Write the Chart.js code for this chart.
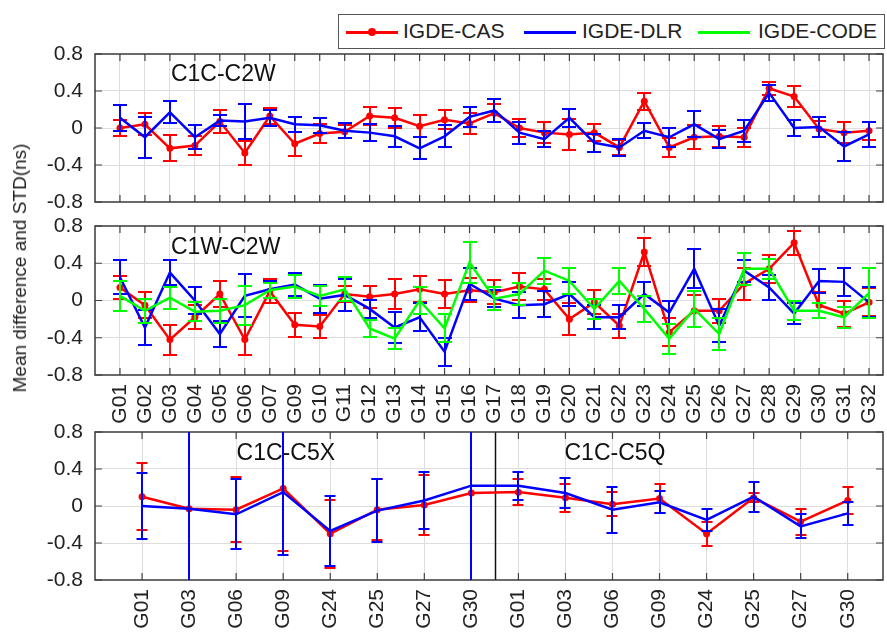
<!DOCTYPE html>
<html>
<head>
<meta charset="utf-8">
<script src="https://cdn.jsdelivr.net/npm/chart.js@4.4.1/dist/chart.umd.min.js"></script>
<style>
  html, body { margin:0; padding:0; background:#fff; }
  #page { position:relative; width:887px; height:635px; overflow:hidden; background:#fff;
          font-family:"Liberation Sans", Arial, Helvetica, sans-serif; color:#222; }
  canvas { position:absolute; left:0; }
  #ylab { position:absolute; left:20px; top:268px; transform:translate(-50%,-50%) rotate(-90deg);
          font-size:19px; white-space:nowrap; color:#222; }
  #legend { position:absolute; left:338px; top:14px; width:547px; height:35px;
            border:1.5px solid #555; box-sizing:border-box; background:#fff; font-size:21px; }
  .lline { position:absolute; top:16px; height:2.5px; width:52px; }
  .ltext { position:absolute; top:5px; line-height:22px; }
  .ldot { position:absolute; width:8px; height:8px; border-radius:50%; background:#ff0000; top:13px; }
</style>
</head>
<body>
<div id="page">
  <canvas id="c1" width="887" height="170" style="top:40px"></canvas>
  <canvas id="c2" width="887" height="215" style="top:215px"></canvas>
  <canvas id="c3" width="887" height="215" style="top:420px"></canvas>
  <div id="ylab">Mean difference and STD(ns)</div>
  <div id="legend">
    <div class="lline" style="left:7px;background:#ff0000"></div>
    <div class="ldot" style="left:29px"></div>
    <div class="ltext" style="left:64px">IGDE-CAS</div>
    <div class="lline" style="left:185px;background:#0000ff"></div>
    <div class="ltext" style="left:243px">IGDE-DLR</div>
    <div class="lline" style="left:359px;background:#00ff00"></div>
    <div class="ltext" style="left:419px">IGDE-CODE</div>
  </div>
</div>
<script>
// ---------------- DATA ----------------
const sats = ['G01','G02','G03','G04','G05','G06','G07','G09','G10','G11','G12','G13','G14','G15','G16',
              'G17','G18','G19','G20','G21','G22','G23','G24','G25','G26','G27','G28','G29','G30','G31','G32'];

// Panel 1: C1C-C2W
const c2wCasMean = [0.00,0.04,-0.22,-0.19,0.07,-0.27,0.13,-0.17,-0.06,-0.04,0.13,0.11,0.02,0.09,0.05,
                    0.16,0.00,-0.05,-0.07,-0.05,-0.21,0.29,-0.21,-0.10,-0.09,-0.10,0.43,0.34,-0.01,-0.05,-0.03];
const c2wCasStd  = [0.09,0.12,0.14,0.10,0.12,0.13,0.09,0.13,0.10,0.07,0.10,0.11,0.12,0.10,0.11,
                    0.10,0.10,0.11,0.17,0.09,0.08,0.09,0.10,0.13,0.11,0.10,0.07,0.11,0.09,0.11,0.10];
const c2wDlrMean = [0.11,-0.10,0.17,-0.10,0.08,0.07,0.11,0.04,0.03,-0.03,-0.05,-0.09,-0.22,-0.09,0.12,
                    0.19,-0.05,-0.12,0.11,-0.16,-0.21,-0.03,-0.10,0.04,-0.12,-0.03,0.38,0.00,0.01,-0.20,-0.07];
const c2wDlrStd  = [0.14,0.22,0.12,0.13,0.06,0.19,0.09,0.08,0.08,0.08,0.09,0.11,0.12,0.12,0.11,
                    0.12,0.12,0.09,0.10,0.10,0.09,0.08,0.10,0.14,0.10,0.12,0.09,0.09,0.11,0.16,0.14];

// Panel 2: C1W-C2W
const c1wCasMean = [0.14,-0.05,-0.42,-0.18,0.07,-0.42,0.10,-0.26,-0.28,0.07,0.04,0.07,0.12,0.07,0.11,
                    0.09,0.15,0.12,-0.20,-0.02,-0.27,0.52,-0.34,-0.11,-0.11,0.18,0.34,0.62,-0.05,-0.14,-0.02];
const c1wCasStd  = [0.12,0.14,0.16,0.13,0.14,0.16,0.13,0.13,0.12,0.09,0.12,0.16,0.14,0.15,0.13,
                    0.13,0.14,0.11,0.17,0.13,0.13,0.15,0.15,0.17,0.13,0.17,0.15,0.13,0.14,0.14,0.15];
const c1wDlrMean = [0.25,-0.29,0.30,0.00,-0.36,0.05,0.12,0.17,0.02,0.06,-0.09,-0.29,-0.18,-0.55,0.18,
                    0.02,-0.05,-0.04,0.07,-0.18,-0.18,0.07,-0.13,0.34,-0.27,0.32,0.14,-0.14,0.21,0.20,-0.02];
const c1wDlrStd  = [0.18,0.19,0.13,0.14,0.14,0.23,0.09,0.12,0.15,0.17,0.10,0.17,0.15,0.15,0.17,
                    0.09,0.14,0.14,0.13,0.13,0.13,0.13,0.12,0.21,0.18,0.12,0.13,0.11,0.13,0.15,0.16];
const c1wCodeMean = [0.05,-0.11,0.03,-0.12,-0.11,-0.05,0.11,0.15,0.05,0.12,-0.30,-0.41,0.00,-0.30,0.41,
                     0.02,0.07,0.32,0.21,-0.09,0.21,-0.09,-0.41,-0.09,-0.36,0.34,0.34,-0.11,-0.11,-0.18,0.08];
const c1wCodeStd  = [0.16,0.13,0.12,0.10,0.13,0.21,0.08,0.12,0.11,0.13,0.09,0.11,0.15,0.15,0.22,
                     0.12,0.12,0.14,0.14,0.11,0.14,0.14,0.16,0.19,0.17,0.17,0.11,0.10,0.08,0.11,0.27];

// Panel 3: C1C-C5X (first 8) and C1C-C5Q (last 8)
const c5Sats = ['G01','G03','G06','G09','G24','G25','G27','G30','G01','G03','G06','G09','G24','G25','G27','G30'];
const c5CasMean = [0.10,-0.03,-0.04,0.19,-0.30,-0.04,0.01,0.14, 0.15,0.09,0.02,0.08,-0.30,0.09,-0.17,0.06];
const c5CasStd  = [0.36,1.50,0.35,0.68,0.37,0.33,0.32,1.50, 0.14,0.15,0.13,0.16,0.13,0.05,0.14,0.15];
const c5DlrMean = [0.00,-0.03,-0.09,0.15,-0.27,-0.05,0.06,0.22, 0.22,0.14,-0.04,0.04,-0.15,0.10,-0.22,-0.08];
const c5DlrStd  = [0.36,1.50,0.38,0.68,0.38,0.34,0.31,1.50, 0.15,0.16,0.25,0.12,0.12,0.16,0.13,0.12];

const yTicks = [-0.8,-0.4,0,0.4,0.8];
const yTickLabels = ['-0.8','-0.4','0','0.4','0.8'];
const panelTitles = ['C1C-C2W','C1W-C2W','C1C-C5X','C1C-C5Q'];

// ---------------- RENDER ----------------
const RED='#ff0000', BLUE='#0000ff', GREEN='#00ff00';
const FONT = '"Liberation Sans", Arial, Helvetica, sans-serif';

const pts = (mean) => mean.map((v,i)=>({x:i+1, y:v}));

const errorBars = {
  id:'errorBars',
  afterDatasetDraw(chart, args, opts){
    const ds = chart.data.datasets[args.index];
    if(!ds.errors) return;
    const xs = chart.scales.x, ys = chart.scales.y, a = chart.chartArea, ctx = chart.ctx;
    ctx.save();
    ctx.beginPath(); ctx.rect(a.left, a.top, a.right-a.left, a.bottom-a.top); ctx.clip();
    ctx.strokeStyle = ds.borderColor; ctx.lineWidth = opts.lineWidth || 2;
    ds.data.forEach((p,i)=>{
      const e = ds.errors[i];
      const px = Math.round(xs.getPixelForValue(p.x));
      const t = Math.round(ys.getPixelForValue(p.y+e)), b = Math.round(ys.getPixelForValue(p.y-e));
      const c = opts.cap || 7;
      ctx.beginPath();
      ctx.moveTo(px,t); ctx.lineTo(px,b);
      ctx.moveTo(px-c,t); ctx.lineTo(px+c,t);
      ctx.moveTo(px-c,b); ctx.lineTo(px+c,b);
      ctx.stroke();
    });
    ctx.restore();
  }
};

const frame = {
  id:'frame',
  beforeDatasetsDraw(chart, args, opts){
    const a = chart.chartArea, ctx = chart.ctx, xs = chart.scales.x, ys = chart.scales.y;
    ctx.save();
    ctx.fillStyle = '#111';
    ctx.font = '23px ' + FONT;
    ctx.textBaseline = 'middle'; ctx.textAlign = 'left';
    (opts.titles||[]).forEach(t=>{
      ctx.fillText(t.text, xs.getPixelForValue(t.x), ys.getPixelForValue(t.y));
    });
    if (opts.divider !== undefined){
      const dx = Math.round(xs.getPixelForValue(opts.divider)) + 0.5;
      ctx.strokeStyle = '#111'; ctx.lineWidth = 1.5;
      ctx.beginPath(); ctx.moveTo(dx, a.top); ctx.lineTo(dx, a.bottom); ctx.stroke();
    }
    ctx.strokeStyle = '#444'; ctx.lineWidth = 1.2;
    ctx.beginPath();
    xs.ticks.forEach(t=>{
      const px = xs.getPixelForValue(t.value);
      ctx.moveTo(px, a.top); ctx.lineTo(px, a.top+7);
      ctx.moveTo(px, a.bottom); ctx.lineTo(px, a.bottom-7);
    });
    ys.ticks.forEach(t=>{
      const py = ys.getPixelForValue(t.value);
      ctx.moveTo(a.left, py); ctx.lineTo(a.left+7, py);
      ctx.moveTo(a.right, py); ctx.lineTo(a.right-7, py);
    });
    ctx.stroke();
    ctx.strokeStyle = '#3a3a3a'; ctx.lineWidth = 1.5;
    ctx.strokeRect(a.left, a.top, a.right-a.left, a.bottom-a.top);
    ctx.restore();
  }
};

function makeChart(id, cfg){
  const labels = cfg.labels;
  return new Chart(document.getElementById(id), {
    type:'line',
    data:{ datasets: cfg.datasets },
    plugins:[frame, errorBars],
    options:{
      responsive:false, animation:false, devicePixelRatio:1,
      layout:{ padding:{ left:0, right:2, top:cfg.padTop, bottom:0 } },
      elements:{ line:{ tension:0 } },
      plugins:{
        legend:{display:false}, tooltip:{enabled:false},
        errorBars:{ cap:cfg.cap, lineWidth:2 },
        frame:{ titles:cfg.titles, divider:cfg.divider }
      },
      scales:{
        x:{
          type:'linear', min:0, max:cfg.xMax,
          afterBuildTicks: s => { s.ticks = labels.map((_,i)=>({value:i+1})); },
          afterFit: s => { s.height = cfg.xH; s.paddingLeft = 0; s.paddingRight = 0; },
          ticks:{ display:cfg.showLabels, autoSkip:false, minRotation:90, maxRotation:90,
                  padding:9, color:'#222', font:{family:FONT, size:21},
                  callback:(v)=> labels[Math.round(v)-1] },
          grid:{ color:'#dedede', lineWidth:1, drawTicks:false },
          border:{ display:false }
        },
        y:{
          min:-0.8, max:0.8,
          afterBuildTicks: s => { s.ticks = yTicks.map(v=>({value:v})); },
          afterFit: s => { s.width = 95; s.paddingTop = 0; s.paddingBottom = 0; },
          ticks:{ padding:12, color:'#222', font:{family:FONT, size:21},
                  callback:(v,i)=> yTickLabels[i] },
          grid:{ color: c => (Math.abs(c.tick.value) > 0.79 ? 'rgba(0,0,0,0)' : '#dedede'),
                 lineWidth:1, drawTicks:false },
          border:{ display:false }
        }
      }
    }
  });
}

function ds(label, mean, std, color, order, withDots){
  return { label, data: pts(mean), errors: std, borderColor: color, backgroundColor: color,
           borderWidth: 2.5, pointRadius: withDots ? 3.5 : 0, pointBorderWidth: 0,
           pointBackgroundColor: color, fill:false, order, clip: 0 };
}

makeChart('c1', {
  labels: sats, xMax: 31.56, padTop: 14, xH: 8, showLabels:false, cap:7,
  titles:[{text:panelTitles[0], x:3.04, y:0.58}],
  datasets:[
    ds('IGDE-CAS', c2wCasMean, c2wCasStd, RED, 2, true),
    ds('IGDE-DLR', c2wDlrMean, c2wDlrStd, BLUE, 1, false)
  ]
});

makeChart('c2', {
  labels: sats, xMax: 31.56, padTop: 11, xH: 55, showLabels:true, cap:7,
  titles:[{text:panelTitles[1], x:3.04, y:0.57}],
  datasets:[
    ds('IGDE-CAS', c1wCasMean, c1wCasStd, RED, 2, true),
    ds('IGDE-DLR', c1wDlrMean, c1wDlrStd, BLUE, 1, false),
    ds('IGDE-CODE', c1wCodeMean, c1wCodeStd, GREEN, 0, false)
  ]
});

makeChart('c3', {
  labels: c5Sats, xMax: 16.75, padTop: 12, xH: 55, showLabels:true, cap:5.5, divider: 8.5,
  titles:[{text:panelTitles[2], x:3.01, y:0.57},{text:panelTitles[3], x:9.98, y:0.57}],
  datasets:[
    ds('IGDE-CAS', c5CasMean, c5CasStd, RED, 2, true),
    ds('IGDE-DLR', c5DlrMean, c5DlrStd, BLUE, 1, false)
  ]
});
</script>
</body>
</html>
